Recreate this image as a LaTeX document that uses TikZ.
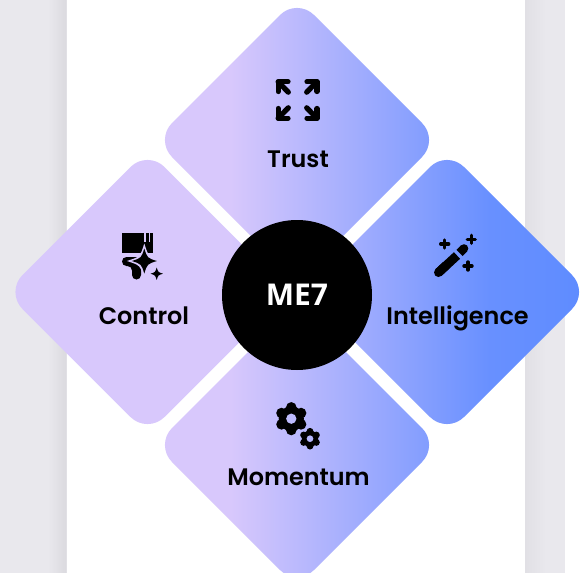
\documentclass[tikz,border=0pt]{standalone}
\usepackage{fontspec}
\setmainfont{Poppins}[UprightFont=* Medium,BoldFont=* SemiBold]
\newfontfamily\mefont{Open Sans}
\definecolor{pagegray}{HTML}{E9E8ED}
\definecolor{edgegray}{HTML}{DBDADF}
\definecolor{edgeright}{HTML}{E1E0E5}
\definecolor{lav}{HTML}{D8C8FC}
\definecolor{midblu}{HTML}{6890FF}
\definecolor{blu}{HTML}{5F8CFF}
\pgfdeclarehorizontalshading{ramp}{100bp}{color(0bp)=(lav); color(44.6bp)=(lav); color(66.7bp)=(midblu); color(74.3bp)=(blu); color(100bp)=(blu)}
\newcommand{\rampfill}{\shade[shading=ramp] (0,0) rectangle (587,573);}
\newcommand{\diamondpath}[2]{[rounded corners=24pt] (#1,#2-142) -- (#1+142,#2) -- (#1,#2+142) -- (#1-142,#2) -- cycle}
\newcommand{\starpath}[3]{(#1,#2-#3) .. controls (#1+.24*#3,#2-.24*#3) .. (#1+#3,#2) .. controls (#1+.24*#3,#2+.24*#3) .. (#1,#2+#3) .. controls (#1-.24*#3,#2+.24*#3) .. (#1-#3,#2) .. controls (#1-.24*#3,#2-.24*#3) .. (#1,#2-#3) -- cycle}
\newcommand{\plusmark}[2]{\draw[wandline,line width=3.4pt] (#1-4,#2) -- (#1+4,#2) (#1,#2-4) -- (#1,#2+4);}
\newcommand{\gearshape}[3]{%
  \fill[black] (#1,#2) circle (.76*#3);
  \foreach \a in {30,90,150,210,270,330} {\fill[black] ({#1+.68*#3*cos(\a)},{#2+.68*#3*sin(\a)}) circle (.32*#3);}
  \begin{scope}\clip (#1,#2) circle (.31*#3);\rampfill\end{scope}}
\begin{document}
\begin{tikzpicture}[x=1pt,y=-1pt,
  lbl/.style={font=\fontsize{23.9}{26}\selectfont\bfseries,text=black,inner sep=0pt,anchor=base},
  arrowline/.style={draw=black,line width=5.2pt,line cap=round,line join=round},
  wandline/.style={draw=black,line cap=round,line join=round}]
\useasboundingbox (0,0) rectangle (587,573);
\clip (0,0) rectangle (587,573);
\fill[white] (0,0) rectangle (587,573);
% page backdrop
\fill[pagegray] (0,0) rectangle (67,573);
\shade[left color=pagegray,right color=edgegray] (48,0) rectangle (66,573);
\fill[edgeright] (66,0) rectangle (67,573);
\fill[pagegray] (525,0) rectangle (565,573);
\shade[left color=edgeright,right color=pagegray] (525,0) rectangle (546,573);
% petals
\begin{scope}\clip \diamondpath{147.5}{292};\rampfill\end{scope}
\begin{scope}\clip \diamondpath{297}{140};\rampfill\end{scope}
\begin{scope}\clip \diamondpath{447}{292};\rampfill\end{scope}
\begin{scope}\clip \diamondpath{297}{445};\rampfill\end{scope}
% hub
\node[circle,fill=black,minimum size=150pt,inner sep=0pt,text=white,font=\mefont\bfseries\fontsize{30}{33}\selectfont] (hub) at (297,295) {\raisebox{-1pt}{ME7}};
% labels
\node[lbl] (trust) at (298,167.5) {Trust};
\node[lbl] (control) at (144,324.5) {Control};
\node[lbl] (intel) at (457.5,324.5) {Intelligence};
\node[lbl] (moment) at (298.5,485.5) {Momentum};
% Trust icon
\foreach \sx/\sy in {1/1,-1/1,1/-1,-1/-1} {
  \begin{scope}[shift={(297.5,100)},xscale=\sx,yscale=\sy]
    \draw[arrowline] (9.5,-18.2) -- (19.4,-18.2) -- (19.4,-8.5);
    \draw[arrowline] (19.4,-18.2) -- (9.2,-7.8);
  \end{scope}
}
% Control icon
\fill[black] (122,232.7) rectangle (153.3,253.3);
\fill[lav] (144.3,232) rectangle (146,242);
\fill[lav] (149,232) rectangle (150.2,242);
\fill[black] (122,257) -- (139,257) -- (141,270) [rounded corners=4.5pt] -- (141,279.5) -- (132,279.5) -- (132,266) -- (122,266) -- cycle;
\fill[lav] \starpath{144.3}{261}{17.5};
\fill[black] \starpath{144.3}{261}{12.5};
\fill[black] \starpath{156.7}{273.7}{6.2};
% Intelligence icon
\draw[wandline,line width=9pt] (438.5,272.5) -- (446,265.5);
\draw[draw=black,line width=9pt] (438.5,272.5) -- (457,255.5);
\draw[draw=black,line width=8.6pt] (459.5,253) -- (464,248.5);
\fill[black] (464,248.5) circle (4.3);
\plusmark{444.7}{244}
\plusmark{471.3}{239.3}
\plusmark{468}{266}
% Momentum icon
\gearshape{291.3}{418.7}{16.6}
\gearshape{310}{438.7}{10.8}
\end{tikzpicture}
\end{document}
